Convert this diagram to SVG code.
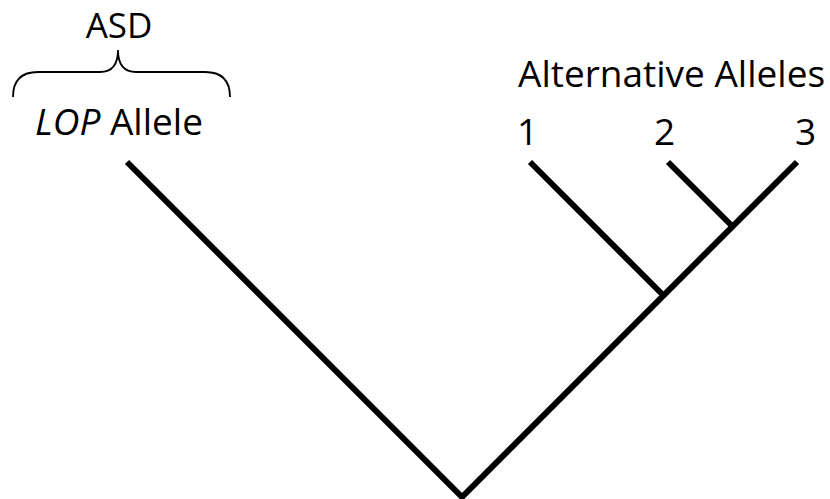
<svg xmlns="http://www.w3.org/2000/svg" width="830" height="499" viewBox="0 0 830 499">
<style>
text{font-family:"Open Sans","Liberation Sans",sans-serif;fill:#000;}
.lbl{font-size:37px;}
.tree{fill:none;stroke:#000;stroke-width:6;stroke-linecap:butt;stroke-linejoin:miter;}
.brace{fill:none;stroke:#000;stroke-width:1.8;}
</style>
<rect width="830" height="499" fill="#fff"/>
<g id="asd">
<text x="119" y="38" text-anchor="middle" font-size="35">ASD</text>
<path class="brace" d="M13,97 Q13,72 38,72 L100,72 Q118,72 118,50 Q118,72 136,72 L205,72 Q230,72 230,97"/>
</g>
<g id="lop">
<text class="lbl" x="35" y="135"><tspan font-style="italic">LOP</tspan> Allele</text>
</g>
<g id="alt">
<text class="lbl" x="518" y="87">Alternative Alleles</text>
</g>
<g id="a1"><text class="lbl" x="517" y="145">1</text></g>
<g id="a2"><text class="lbl" x="654" y="145">2</text></g>
<g id="a3"><text class="lbl" x="795" y="145">3</text></g>
<g id="connectors">
<polyline class="tree" points="127,162 462,497 797,162"/>
<line class="tree" x1="530" y1="162" x2="664" y2="296"/>
<line class="tree" x1="668" y1="162" x2="733" y2="227"/>
</g>
</svg>
